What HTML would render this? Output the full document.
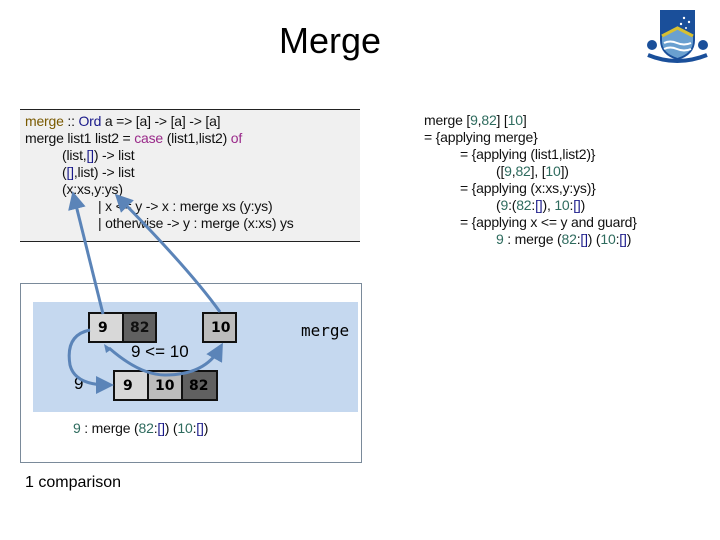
<!DOCTYPE html>
<html><head><style>
body{margin:0;width:720px;height:540px;background:#fff;position:relative;overflow:hidden;font-family:"Liberation Sans",sans-serif;}
.t{position:absolute;font-size:14px;white-space:pre;color:#111;line-height:17px;letter-spacing:-0.2px}
.g{color:#2e6b5e}.b{color:#1a1a8a}.p{color:#9a2a8a}.o{color:#7a5a00}
.box{position:absolute;border:2px solid #111;box-sizing:border-box;font-family:"DejaVu Sans",sans-serif;font-weight:bold;font-size:14px;display:flex;align-items:center;}
</style></head><body>
<div style="position:absolute;left:0;width:660px;top:20px;text-align:center;font-size:36px;font-family:'Liberation Sans',sans-serif">Merge</div>
<svg style="position:absolute;left:640px;top:5px" width="75" height="65" viewBox="0 0 75 65">
<path d="M20 5 H55 V35 Q55 50 37.5 55 Q20 50 20 35Z" fill="#1a4f9a"/>
<path d="M22 32 L37.5 24 L53 32 V36 Q53 48 37.5 53 Q22 48 22 36Z" fill="#6aa0d0"/>
<path d="M22 31 L37.5 23 L53 31" stroke="#d8c030" stroke-width="3" fill="none"/>
<path d="M24 38 Q30 35 37 38 T51 38 M24 44 Q30 41 37 44 T51 44" stroke="#fff" stroke-width="2" fill="none"/>
<circle cx="44" cy="13" r="1.2" fill="#fff"/><circle cx="49" cy="17" r="1.2" fill="#fff"/><circle cx="41" cy="19" r="1.2" fill="#fff"/><circle cx="46" cy="23" r="1" fill="#fff"/>
<path d="M8 50 Q37 62 67 50" stroke="#1a4f9a" stroke-width="4" fill="none"/>
<circle cx="12" cy="40" r="5" fill="#1a4f9a"/><circle cx="63" cy="40" r="5" fill="#1a4f9a"/>
</svg>
<div style="position:absolute;left:20px;top:109px;width:340px;height:133px;background:#f0f0f0;border-top:1.5px solid #222;border-bottom:1.5px solid #222;box-sizing:border-box"></div>
<div class="t" style="left:25px;top:113px"><span class="o">merge</span> :: <span class="b">Ord</span> a => [a] -> [a] -> [a]</div>
<div class="t" style="left:25px;top:130px">merge list1 list2 = <span class="p">case</span> (list1,list2) <span class="p">of</span></div>
<div class="t" style="left:62px;top:147px">(list,<span class="b">[]</span>) -> list</div>
<div class="t" style="left:62px;top:164px">(<span class="b">[]</span>,list) -> list</div>
<div class="t" style="left:62px;top:181px">(x:xs,y:ys)</div>
<div class="t" style="left:98px;top:198px">| x <= y -> x : merge xs (y:ys)</div>
<div class="t" style="left:98px;top:215px">| otherwise -> y : merge (x:xs) ys</div>

<div class="t" style="left:424px;top:112px">merge [<span class="g">9</span>,<span class="g">82</span>] [<span class="g">10</span>]</div>
<div class="t" style="left:424px;top:129px">= {applying merge}</div>
<div class="t" style="left:460px;top:146px">= {applying (list1,list2)}</div>
<div class="t" style="left:496px;top:163px">([<span class="g">9</span>,<span class="g">82</span>], [<span class="g">10</span>])</div>
<div class="t" style="left:460px;top:180px">= {applying (x:xs,y:ys)}</div>
<div class="t" style="left:496px;top:197px">(<span class="g">9</span>:(<span class="g">82</span>:<span class="b">[]</span>), <span class="g">10</span>:<span class="b">[]</span>)</div>
<div class="t" style="left:460px;top:214px">= {applying x <= y and guard}</div>
<div class="t" style="left:496px;top:231px"><span class="g">9</span> : merge (<span class="g">82</span>:<span class="b">[]</span>) (<span class="g">10</span>:<span class="b">[]</span>)</div>

<div style="position:absolute;left:20px;top:283px;width:342px;height:180px;border:1px solid #7a8a9a;box-sizing:border-box"></div>
<div style="position:absolute;left:33px;top:302px;width:325px;height:110px;background:#c5d8ef"></div>
<div class="box" style="left:88px;top:312px;width:36px;height:31px;background:#d8d8d8;padding-left:8px">9</div>
<div class="box" style="left:122px;top:312px;width:35px;height:31px;background:#606060;padding-left:6px;color:#111">82</div>
<div class="box" style="left:202px;top:312px;width:35px;height:31px;background:#bcbcbc;padding-left:7px">10</div>
<div class="box" style="left:113px;top:370px;width:36px;height:31px;background:#d8d8d8;padding-left:8px">9</div>
<div class="box" style="left:147px;top:370px;width:36px;height:31px;background:#bcbcbc;padding-left:6px">10</div>
<div class="box" style="left:181px;top:370px;width:37px;height:31px;background:#606060;padding-left:6px">82</div>
<div style="position:absolute;left:131px;top:342px;font-size:17px">9 &lt;= 10</div>
<div style="position:absolute;left:74px;top:374px;font-size:17px">9</div>
<div style="position:absolute;left:301px;top:321px;font-size:16px;font-family:'DejaVu Sans Mono',monospace">merge</div>
<div class="t" style="left:73px;top:420px"><span class="g">9</span> : merge (<span class="g">82</span>:<span class="b">[]</span>) (<span class="g">10</span>:<span class="b">[]</span>)</div>
<div style="position:absolute;left:25px;top:474px;font-size:16px">1 comparison</div>
<svg style="position:absolute;left:0;top:0" width="720" height="540">
<defs><marker id="a" markerWidth="6" markerHeight="6" refX="4" refY="3" orient="auto"><path d="M0 0 L6 3 L0 6Z" fill="#5b84b8"/></marker></defs>
<g stroke="#5b84b8" stroke-width="3" fill="none">
<path d="M103 314 L74 197" marker-end="url(#a)"/>
<path d="M220 312 Q190 270 119 198" marker-end="url(#a)"/>
<path d="M90 330 Q65 335 70 365 Q75 385 108 385" marker-end="url(#a)"/>
<path d="M109 348 Q140 375 165 375 Q205 375 220 348" marker-end="url(#a)"/>
</g>
<path d="M104 344 L112 349 L106 353Z" fill="#5b84b8"/>
</svg>
</body></html>
